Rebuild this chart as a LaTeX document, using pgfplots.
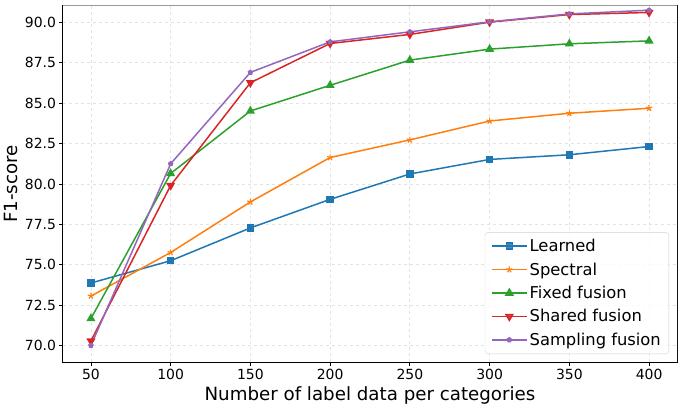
\documentclass[border=0pt]{standalone}
\usepackage{pgfplots}
\pgfplotsset{compat=1.18}
\usepackage{fontspec}
\setmainfont{DejaVu Sans}
\definecolor{tabblue}{HTML}{1F77B4}
\definecolor{taborange}{HTML}{FF7F0E}
\definecolor{tabgreen}{HTML}{2CA02C}
\definecolor{tabred}{HTML}{D62728}
\definecolor{tabpurple}{HTML}{9467BD}
\begin{document}
\begin{tikzpicture}
\begin{axis}[
  scale only axis,
  width=614bp, height=356bp,
  xmin=32.5, xmax=417.5,
  ymin=68.98, ymax=91.02,
  xtick={50,100,...,400},
  ytick={70,72.5,...,90},
  yticklabel style={/pgf/number format/.cd,fixed,fixed zerofill,precision=1},
  /pgf/number format/assume math mode=true,
  tick label style={font=\fontsize{14}{16}\selectfont},
  label style={font=\fontsize{18.3}{20}\selectfont},
  xlabel={Number of label data per categories},
  ylabel={F1-score},
  tick align=outside,
  major tick length=3.5bp,
  tick style={black, line width=0.8bp},
  xtick pos=bottom, ytick pos=left,
  grid=major,
  grid style={dashed, gray!22, line width=0.8bp},
  axis line style={line width=1bp},
  every axis plot/.append style={line width=1.5bp},
  legend style={at={(1,0)}, anchor=south east, xshift=-8bp, yshift=8bp,
    font=\fontsize{16.4}{18}\selectfont, draw=gray!35, rounded corners=3bp,
    fill=white, fill opacity=0.8, text opacity=1, row sep=5.5bp,
    inner xsep=6bp, inner ysep=5bp},
  legend cell align=left,
  legend image code/.code={\draw[line width=1.6bp, mark repeat=2,mark phase=2] plot coordinates {(0bp,0bp) (17.5bp,0bp) (35bp,0bp)};},
]
\addplot[color=tabblue, mark=square*, mark size=3bp] coordinates {
(50,73.87) (100,75.25) (150,77.28) (200,79.05) (250,80.62) (300,81.52) (350,81.81) (400,82.32)};
\addlegendentry{Learned}
\addplot[color=taborange, mark=star, mark size=3.2bp, mark options={line width=1.2bp}] coordinates {
(50,73.06) (100,75.76) (150,78.89) (200,81.64) (250,82.73) (300,83.90) (350,84.38) (400,84.69)};
\addlegendentry{Spectral}
\addplot[color=tabgreen, mark=triangle*, mark size=3.8bp] coordinates {
(50,71.67) (100,80.65) (150,84.52) (200,86.11) (250,87.67) (300,88.35) (350,88.68) (400,88.86)};
\addlegendentry{Fixed fusion}
\addplot[color=tabred, mark=triangle*, mark size=3.8bp, mark options={rotate=180}] coordinates {
(50,70.28) (100,79.91) (150,86.27) (200,88.70) (250,89.26) (300,90.02) (350,90.49) (400,90.62)};
\addlegendentry{Shared fusion}
\addplot[color=tabpurple, mark=pentagon*, mark size=2bp] coordinates {
(50,70.00) (100,81.25) (150,86.91) (200,88.80) (250,89.42) (300,90.04) (350,90.53) (400,90.76)};
\addlegendentry{Sampling fusion}
\draw[gray!80, line width=1bp] (rel axis cs:0,1) -- (rel axis cs:1,1) -- (rel axis cs:1,0);
\coordinate (BL) at (rel axis cs:0,0);
\coordinate (TR) at (rel axis cs:1,1);
\end{axis}
\pgfresetboundingbox
\path ([shift={(-63bp,-45bp)}]BL) rectangle ([shift={(4bp,6bp)}]TR);
\end{tikzpicture}
\end{document}
